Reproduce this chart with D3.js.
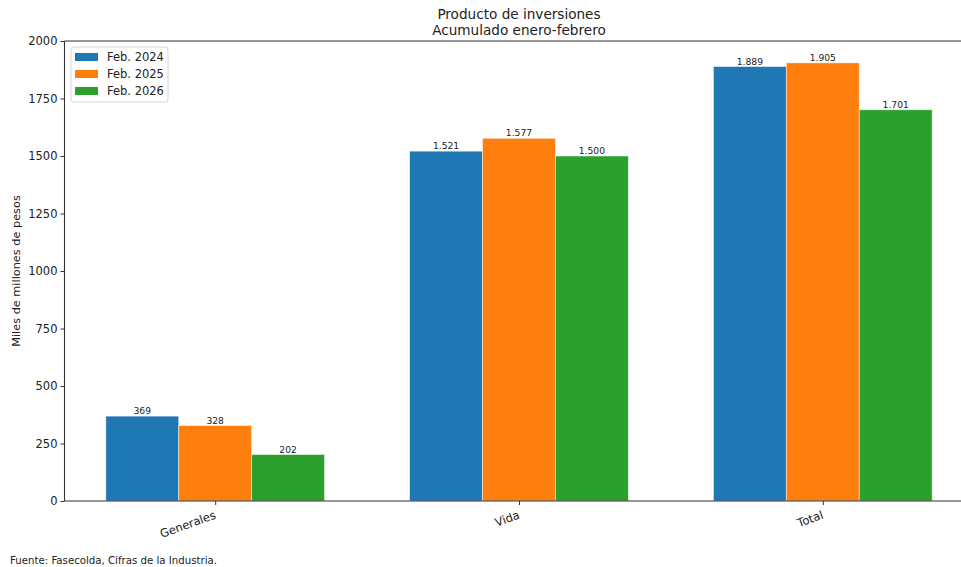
<!DOCTYPE html>
<html>
<head>
<meta charset="utf-8">
<script src="https://cdn.jsdelivr.net/npm/d3@7"></script>
<style>
  html, body { margin: 0; padding: 0; background: #fff; }
  svg { display: block; }
  text { font-family: "DejaVu Sans", sans-serif; fill: #222; }
</style>
</head>
<body>
<svg id="chart" width="961" height="567"></svg>
<script>
const categories = ["Generales", "Vida", "Total"];
const seriesNames = ["Feb. 2024", "Feb. 2025", "Feb. 2026"];
const values2024 = [369, 1521, 1889];
const values2025 = [328, 1577, 1905];
const values2026 = [202, 1500, 1701];
const yTicks = [0, 250, 500, 750, 1000, 1250, 1500, 1750, 2000];
const colors = ["#1f77b4", "#ff7f0e", "#2ca02c"];
const titleLines = ["Producto de inversiones", "Acumulado enero-febrero"];
const yLabel = "Miles de millones de pesos";
const sourceNote = "Fuente: Fasecolda, Cifras de la Industria.";

(function () {
const series = [values2024, values2025, values2026];

const svg = d3.select("#chart");
const pL = 64.5, pT = 41, pB = 501;
const barW = 0.24;
const span = (categories.length - 1) + 3 * barW;
const marg = span * 0.05;
const xMin = -1.5 * barW - marg, xMax = (categories.length - 1) + 1.5 * barW + marg;
const pxPerUnit = 303.8;
const pR = pL + (xMax - xMin) * pxPerUnit;

const x = d3.scaleLinear().domain([xMin, xMax]).range([pL, pR]);
const y = d3.scaleLinear().domain([0, 2000]).range([pB, pT]);

const fmt = v => d3.format(",")(v).replace(/,/g, ".");

// bars
series.forEach((vals, si) => {
  const off = (si - 1) * barW;
  const g = svg.append("g");
  g.selectAll("rect").data(vals).enter().append("rect")
    .attr("x", (d, i) => x(i + off - barW / 2))
    .attr("width", x(barW) - x(0))
    .attr("y", d => y(d))
    .attr("height", d => y(0) - y(d))
    .attr("fill", colors[si])
    .attr("stroke", "#ffffff")
    .attr("stroke-opacity", 0.6)
    .attr("stroke-width", 0.8);
  g.selectAll("text").data(vals).enter().append("text")
    .attr("x", (d, i) => x(i + off))
    .attr("y", d => y(d) - 2)
    .attr("text-anchor", "middle")
    .attr("font-size", "9.2px")
    .text(d => fmt(d));
});

// y axis
const yAxis = d3.axisLeft(y).tickValues(yTicks).tickSize(4).tickPadding(3).tickFormat(d => d);
const yg = svg.append("g").attr("transform", `translate(${pL},0)`).call(yAxis);
yg.select(".domain").remove();
yg.selectAll("line").attr("stroke", "#333");
yg.selectAll("text").attr("font-size", "11.5px").attr("fill", "#222").attr("font-family", "DejaVu Sans, sans-serif");

// x axis
const xAxis = d3.axisBottom(x).tickValues(d3.range(categories.length)).tickSize(4).tickFormat("");
const xg = svg.append("g").attr("transform", `translate(0,${pB})`).call(xAxis);
xg.select(".domain").remove();
xg.selectAll("line").attr("stroke", "#333");
xg.selectAll(".tick").append("text")
  .attr("transform", "translate(-2,9) rotate(-20)")
  .attr("text-anchor", "end")
  .attr("dy", "0.75em")
  .attr("font-size", "11.5px")
  .attr("fill", "#222")
  .text((d, i) => categories[i]);

// spines
const sp = svg.append("g").attr("stroke", "#333").attr("stroke-width", 1.1).attr("fill", "none");
sp.append("line").attr("x1", pL).attr("x2", pL).attr("y1", pT).attr("y2", pB);
sp.append("line").attr("x1", pL).attr("x2", pR).attr("y1", pB).attr("y2", pB);
sp.append("line").attr("x1", pL).attr("x2", pR).attr("y1", pT).attr("y2", pT);
sp.append("line").attr("x1", pR).attr("x2", pR).attr("y1", pT).attr("y2", pB);

// title
const cx = (pL + pR) / 2;
svg.append("text").attr("x", cx).attr("y", 19).attr("text-anchor", "middle")
  .attr("font-size", "13.6px").text(titleLines[0]);
svg.append("text").attr("x", cx).attr("y", 35).attr("text-anchor", "middle")
  .attr("font-size", "13.6px").text(titleLines[1]);

// y label
svg.append("text")
  .attr("transform", `translate(20,${(pT + pB) / 2}) rotate(-90)`)
  .attr("text-anchor", "middle")
  .attr("font-size", "11.3px")
  .text(yLabel);

// legend
const lg = svg.append("g");
lg.append("rect").attr("x", 71).attr("y", 47).attr("width", 97).attr("height", 55)
  .attr("rx", 3).attr("fill", "#fff").attr("fill-opacity", 0.8)
  .attr("stroke", "#d6d6d6").attr("stroke-width", 1);
seriesNames.forEach((n, i) => {
  const cy = 57 + i * 17;
  lg.append("rect").attr("x", 75).attr("y", cy - 4).attr("width", 23).attr("height", 8).attr("fill", colors[i]);
  lg.append("text").attr("x", 107).attr("y", cy + 4).attr("font-size", "11.5px").text(n);
});

// source
svg.append("text").attr("x", 10).attr("y", 564).attr("font-size", "10.2px").text(sourceNote);
})();
</script>
</body>
</html>
